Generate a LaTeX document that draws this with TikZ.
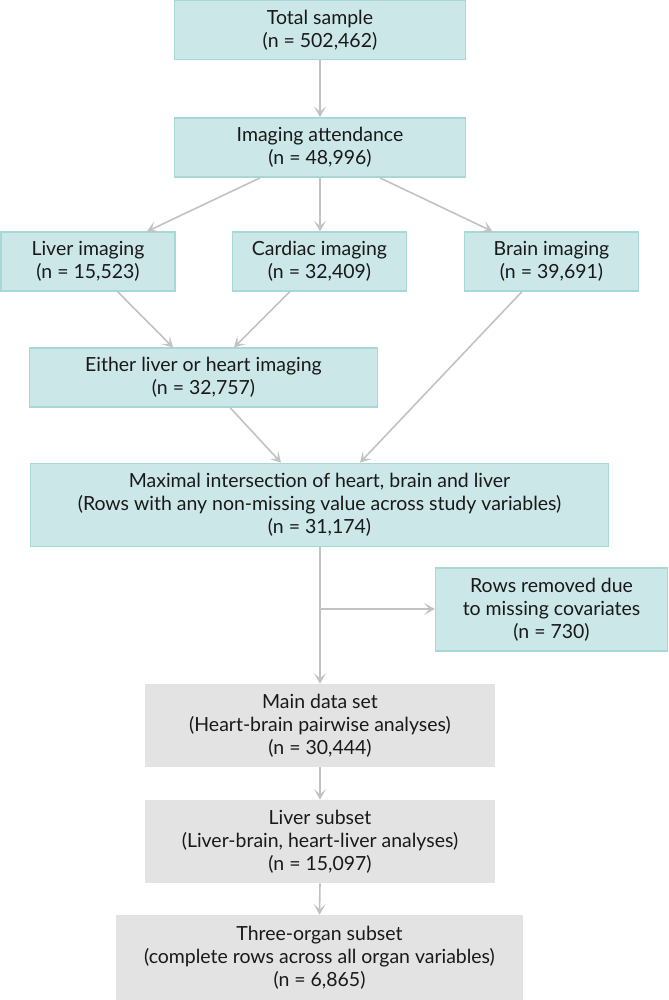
\documentclass[tikz,border=0pt]{standalone}
\usepackage{fontspec}
\setmainfont{Lato}
\usetikzlibrary{arrows.meta,calc}
\definecolor{tealfill}{HTML}{CCE7E7}
\definecolor{tealborder}{HTML}{A6D8D8}
\definecolor{grayfill}{HTML}{E3E3E3}
\definecolor{arrowgray}{HTML}{C2C2C2}
\begin{document}
\begin{tikzpicture}[x=0.75pt,y=-0.75pt,
  box/.style={align=center,inner sep=0pt,font=\fontsize{14.6pt}{17.3pt}\selectfont,text=black!90},
  tealbox/.style={box,draw=tealborder,fill=tealfill,line width=1.1pt},
  graybox/.style={box,fill=grayfill},
  conn/.style={draw=arrowgray,line width=1.2pt,-{Stealth[length=8pt,width=9pt,inset=4pt]}},
  line/.style={draw=arrowgray,line width=1.2pt}]
\useasboundingbox (0,0) rectangle (668,1000);
\node[tealbox,minimum width=218pt,minimum height=44.5pt] (total) at (320,30) {Total sample\\(n = 502,462)};
\node[tealbox,minimum width=218pt,minimum height=44.5pt] (img) at (320,147.5) {Imaging attendance\\(n = 48,996)};
\node[tealbox,minimum width=130.5pt,minimum height=44pt] (liver) at (88,261.5) {Liver imaging\\(n = 15,523)};
\node[tealbox,minimum width=130.5pt,minimum height=44pt] (cardiac) at (319.5,261.5) {Cardiac imaging\\(n = 32,409)};
\node[tealbox,minimum width=130.5pt,minimum height=44pt] (brain) at (551.5,261.5) {Brain imaging\\(n = 39,691)};
\node[tealbox,minimum width=261pt,minimum height=44pt] (either) at (203.5,377.5) {Either liver or heart imaging\\(n = 32,757)};
\node[tealbox,minimum width=433.5pt,minimum height=62.5pt] (max) at (319.5,505) {Maximal intersection of heart, brain and liver\\(Rows with any non-missing value across study variables)\\(n = 31,174)};
\node[tealbox,minimum width=174pt,minimum height=62pt] (removed) at (551.5,609.5) {Rows removed due\\to missing covariates\\(n = 730)};
\node[graybox,minimum width=262.5pt,minimum height=62.25pt] (main) at (320,725.5) {Main data set\\(Heart-brain pairwise analyses)\\(n = 30,444)};
\node[graybox,minimum width=262.5pt,minimum height=62.25pt] (liversub) at (320,841.5) {Liver subset\\(Liver-brain, heart-liver analyses)\\(n = 15,097)};
\node[graybox,minimum width=305.25pt,minimum height=63.75pt] (three) at (319.5,957.5) {Three-organ subset\\(complete rows across all organ variables)\\(n = 6,865)};
\coordinate (split) at (320,609);
\draw[conn] (total.south) -- (img.north);
\draw[conn] ($(img.south)+(-60,0)$) -- ($(liver.north)+(59,0)$);
\draw[conn] (img.south) -- (img.south |- cardiac.north);
\draw[conn] ($(img.south)+(60,0)$) -- ($(brain.north)+(-59,0)$);
\draw[conn] ($(liver.south)+(29.5,0)$) -- ($(either.north)+(-30.5,0)$);
\draw[conn] ($(cardiac.south)+(-29.5,0)$) -- ($(either.north)+(30.5,0)$);
\draw[conn] ($(either.south)+(26.5,0)$) -- ($(max.north)+(-38.5,0)$);
\draw[conn] ($(brain.south)+(-29.5,0)$) -- ($(max.north)+(40.5,0)$);
\draw[conn] (max.south -| main.north) -- (main.north);
\draw[conn] (split) -- (split -| removed.west);
\draw[conn] (main.south) -- (liversub.north);
\draw[conn] (liversub.south) -- (three.north);
\end{tikzpicture}
\end{document}
